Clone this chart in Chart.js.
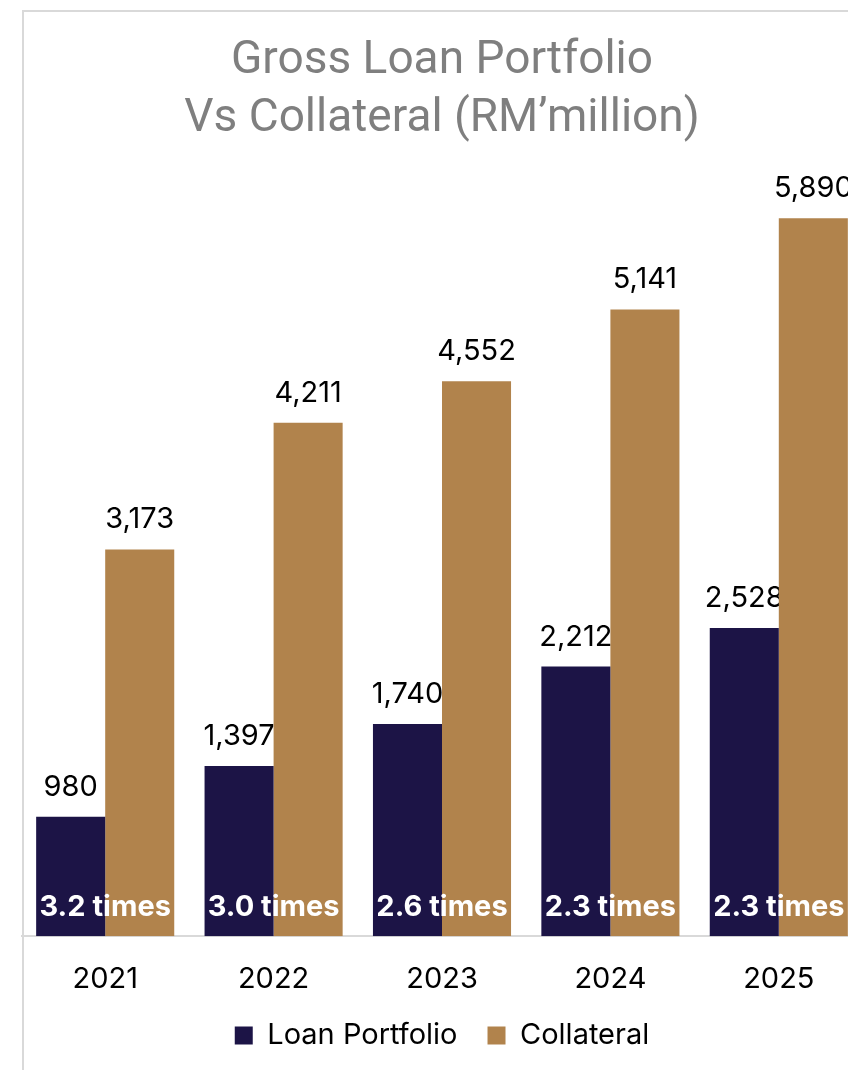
<!DOCTYPE html>
<html>
<head>
<meta charset="utf-8">
<script src="https://cdn.jsdelivr.net/npm/chart.js@4/dist/chart.umd.min.js"></script>
<style>
  html, body { margin: 0; padding: 0; background: #ffffff; overflow: hidden; width: 848px; height: 1070px; }
  #frame {
    position: absolute; left: 22px; top: 10px;
    width: 880px; height: 1080px;
    border-left: 2px solid #d9d9d9; border-top: 2px solid #d9d9d9;
  }
  #chart { position: absolute; left: 21px; top: 12px; display: block; }
</style>
</head>
<body>
<div id="frame"></div>
<canvas id="chart" width="860" height="1080"></canvas>
<script>
// Gross loan portfolio against collateral held, RM million
const years = ['2021', '2022', '2023', '2024', '2025'];
const loanPortfolio = [980, 1397, 1740, 2212, 2528];
const collateral = [3173, 4211, 4552, 5141, 5890];
const coverLabels = ['3.2 times', '3.0 times', '2.6 times', '2.3 times', '2.3 times'];

const NAVY = '#1c1446';
const TAN = '#b1834c';
const FAMILY = 'Inter, "Noto Sans", sans-serif';
const AXIS_TRIM = 24;

const fmt = v => v.toLocaleString('en-US');

function drawValues(chart, index) {
  const ctx = chart.ctx;
  const meta = chart.getDatasetMeta(index);
  const data = chart.data.datasets[index].data;
  ctx.save();
  ctx.font = '29px ' + FAMILY;
  ctx.fillStyle = '#000000';
  ctx.textAlign = 'center';
  ctx.textBaseline = 'alphabetic';
  meta.data.forEach((bar, i) => {
    ctx.fillText(fmt(data[i]), bar.x, bar.y - 21);
  });
  ctx.restore();
}

// loan values go down first so the collateral bars sit over any overlap;
// collateral values and the cover ratios go on top
const valueLabels = {
  id: 'valueLabels',
  afterLayout(chart) {
    // the x axis was fitted tighter than its labels; give the labels room to draw
    chart.scales.x.bottom += AXIS_TRIM + 10;
  },
  beforeDatasetsDraw(chart) {
    drawValues(chart, 0);
  },
  afterDatasetsDraw(chart) {
    drawValues(chart, 1);
    const ctx = chart.ctx;
    const xScale = chart.scales.x;
    const base = chart.scales.y.getPixelForValue(0);
    ctx.save();
    ctx.font = 'bold 29px ' + FAMILY;
    ctx.fillStyle = '#ffffff';
    ctx.textAlign = 'center';
    ctx.textBaseline = 'alphabetic';
    coverLabels.forEach((t, i) => {
      ctx.fillText(t, xScale.getPixelForTick(i), base - 20);
    });
    ctx.restore();
  }
};

new Chart(document.getElementById('chart'), {
  type: 'bar',
  data: {
    labels: years,
    datasets: [
      { label: 'Loan Portfolio', data: loanPortfolio, backgroundColor: NAVY },
      { label: 'Collateral', data: collateral, backgroundColor: TAN }
    ]
  },
  options: {
    responsive: false,
    animation: false,
    layout: { padding: { left: 0, right: 18, top: 0, bottom: 32 } },
    datasets: { bar: { barPercentage: 1, categoryPercentage: 0.82 } },
    scales: {
      x: {
        grid: { display: false },
        border: { display: true, color: '#d9d9d9', width: 2 },
        ticks: { color: '#000000', font: { family: 'Inter', size: 29 }, padding: 18 },
        afterFit(scale) { scale.height -= AXIS_TRIM; }
      },
      y: {
        display: false,
        min: 0,
        max: 6400
      }
    },
    plugins: {
      title: {
        display: true,
        text: ['Gross Loan Portfolio', 'Vs Collateral (RM\u2019million)'],
        color: '#7f7f7f',
        font: { family: 'Roboto', size: 46, weight: 'normal', lineHeight: 1.25 },
        padding: { top: 21, bottom: 8 }
      },
      legend: {
        position: 'bottom',
        labels: {
          color: '#000000',
          font: { family: 'Inter', size: 29 },
          boxWidth: 18, boxHeight: 18,
          padding: 30
        }
      },
      tooltip: { enabled: false }
    }
  },
  plugins: [valueLabels]
});
</script>
</body>
</html>
